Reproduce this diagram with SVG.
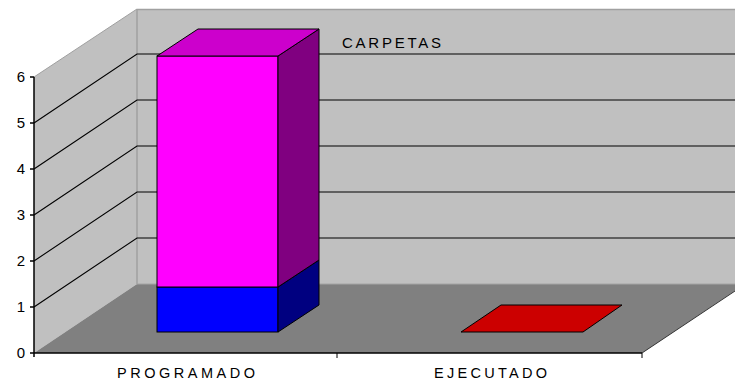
<svg xmlns="http://www.w3.org/2000/svg" width="735" height="381" viewBox="0 0 735 381">
<style>
.t{font-family:"Liberation Sans",Arial,sans-serif;fill:#000}
.num{font-size:15px;text-anchor:end}
.cat{font-size:14.5px}
.grid{stroke:#000;stroke-width:1.1;fill:none}
.edge{stroke:#000;stroke-width:1;stroke-linejoin:miter}
</style>
<rect width="735" height="381" fill="#fff"/>
<g id="walls">
  <polygon points="34,77 137,9 137,284 34,353" fill="#c0c0c0"/>
  <rect x="137" y="9" width="600" height="275" fill="#c0c0c0"/>
  <line x1="34" y1="77" x2="137" y2="9" stroke="#a0a0a0" stroke-width="1"/>
  <line x1="137" y1="9.5" x2="735" y2="9.5" stroke="#a0a0a0" stroke-width="1.5"/>
  <line x1="137" y1="9" x2="137" y2="284" stroke="#a0a0a0" stroke-width="1.5"/>
  <polygon points="34,353 137,284 745,284 642,353" fill="#808080"/>
  <line x1="137" y1="284" x2="735" y2="284" stroke="#a4a4a4" stroke-width="1"/>
  <line x1="642" y1="353" x2="735" y2="291" stroke="#303030" stroke-width="1"/>
</g>
<g id="gridlines">
  <path class="grid" d="M34,307 L137,238 H735 M34,261 L137,192 H735 M34,215 L137,146 H735 M34,169 L137,100 H735 M34,123 L137,54 H735"/>
</g>
<g id="axis">
  <line x1="34" y1="77" x2="34" y2="357" stroke="#000" stroke-width="1.5"/>
  <path d="M30,77 H34 M30,123 H34 M30,169 H34 M30,215 H34 M30,261 H34 M30,307 H34 M30,353 H34" stroke="#000" stroke-width="1.5"/>
  <line x1="34" y1="353" x2="642" y2="353" stroke="#000" stroke-width="1.5"/>
  <path d="M337,353 V358 M642,353 V358" stroke="#000" stroke-width="1"/>
  <text class="t num" x="25" y="82">6</text>
  <text class="t num" x="25" y="128">5</text>
  <text class="t num" x="25" y="174">4</text>
  <text class="t num" x="25" y="220">3</text>
  <text class="t num" x="25" y="266">2</text>
  <text class="t num" x="25" y="312">1</text>
  <text class="t num" x="25" y="358">0</text>
  <text class="t cat" x="117" y="378" textLength="138" lengthAdjust="spacing">PROGRAMADO</text>
  <text class="t cat" x="434" y="378" textLength="113" lengthAdjust="spacing">EJECUTADO</text>
</g>
<g id="bar-programado">
  <rect class="edge" x="157" y="287" width="121" height="45" fill="#0000ff"/>
  <polygon class="edge" points="278,332 319,305 319,260 278,287" fill="#000080"/>
  <rect class="edge" x="157" y="56" width="121" height="231" fill="#ff00ff"/>
  <polygon class="edge" points="278,287 319,260 319,29 278,56" fill="#800080"/>
  <polygon class="edge" points="157,56 198,29 319,29 278,56" fill="#cc00cc"/>
</g>
<g id="bar-ejecutado">
  <polygon class="edge" points="461,332 501,305 622,305 583,332" fill="#cc0000"/>
</g>
<g id="title">
  <text class="t" x="342" y="48" font-size="15" textLength="99" lengthAdjust="spacing">CARPETAS</text>
</g>
</svg>
